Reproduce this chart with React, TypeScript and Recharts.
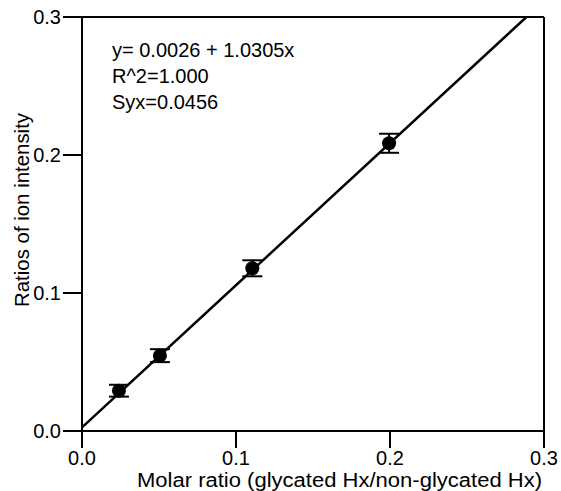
import {
  ComposedChart,
  Scatter,
  XAxis,
  YAxis,
  ErrorBar,
  ReferenceLine,
  Label,
} from "recharts";

// measured points (molar ratio vs ratio of ion intensity)
const molarRatio = [0.024, 0.0506, 0.1106, 0.1994];
const ionRatio = [0.0292, 0.0546, 0.1179, 0.2085];
const ionErr = [0.0043, 0.0047, 0.0058, 0.0069];

// regression line end points
const fitX = [0, 0.2886];
const fitY = [0.0026, 0.3];

const ticks = [0, 0.1, 0.2, 0.3];
const annotation = ["y= 0.0026 + 1.0305x", "R^2=1.000", "Syx=0.0456"];

const points = molarRatio.map((x, i) => ({ x, y: ionRatio[i], err: ionErr[i] }));
const fitLine = fitX.map((x, i) => ({ x, y: fitY[i] }));

const font = "'Liberation Sans', Arial, Helvetica, sans-serif";

const Dot = (props: any) => (
  <circle cx={props.cx} cy={props.cy} r={7} fill="#000" />
);

export default function App() {
  return (
    <div style={{ position: "absolute", left: 0, top: 0, background: "#fff" }}>
      <ComposedChart
        width={561}
        height={491}
        margin={{ top: 17, right: 17, left: 0, bottom: 0 }}
        style={{ fontFamily: font }}
      >
        <XAxis
          type="number"
          dataKey="x"
          domain={[0, 0.3]}
          ticks={ticks}
          tickFormatter={(v: number) => v.toFixed(1)}
          height={60}
          tickSize={17}
          tickMargin={3}
          axisLine={{ stroke: "#000", strokeWidth: 2 }}
          tickLine={{ stroke: "#000", strokeWidth: 2 }}
          tick={{ fill: "#000", fontSize: 20, fontFamily: font }}
          allowDataOverflow
        >
          <Label
            content={() => (
              <text
                x={137}
                y={487}
                fontSize={20}
                fontFamily={font}
                fill="#000"
                textLength={405}
                lengthAdjust="spacingAndGlyphs"
              >
                Molar ratio (glycated Hx/non-glycated Hx)
              </text>
            )}
          />
        </XAxis>
        <YAxis
          type="number"
          dataKey="y"
          domain={[0, 0.3]}
          ticks={ticks}
          tickFormatter={(v: number) => v.toFixed(1)}
          width={82}
          tickSize={19}
          tickMargin={2}
          axisLine={{ stroke: "#000", strokeWidth: 2 }}
          tickLine={{ stroke: "#000", strokeWidth: 2 }}
          tick={{ fill: "#000", fontSize: 20, fontFamily: font }}
          allowDataOverflow
        >
          <Label
            content={() => (
              <text
                x={29}
                y={210}
                fontSize={20}
                fontFamily={font}
                fill="#000"
                textAnchor="middle"
                textLength={194}
                lengthAdjust="spacingAndGlyphs"
                transform="rotate(-90 29 210)"
              >
                Ratios of ion intensity
              </text>
            )}
          />
        </YAxis>
        <ReferenceLine y={0.3} stroke="#000" strokeWidth={2} />
        <ReferenceLine x={0.3} stroke="#000" strokeWidth={2} />
        <Scatter
          data={fitLine}
          line={{ stroke: "#000", strokeWidth: 2.5 }}
          shape={() => <g />}
          isAnimationActive={false}
        />
        <Scatter data={points} shape={Dot} isAnimationActive={false}>
          <ErrorBar
            dataKey="err"
            direction="y"
            width={10}
            stroke="#000"
            strokeWidth={2}
            isAnimationActive={false}
          />
        </Scatter>
        {annotation.map((t, i) => (
          <text
            key={t}
            x={112}
            y={57 + i * 26}
            fontSize={20}
            fontFamily={font}
            fill="#000"
          >
            {t}
          </text>
        ))}
      </ComposedChart>
    </div>
  );
}
